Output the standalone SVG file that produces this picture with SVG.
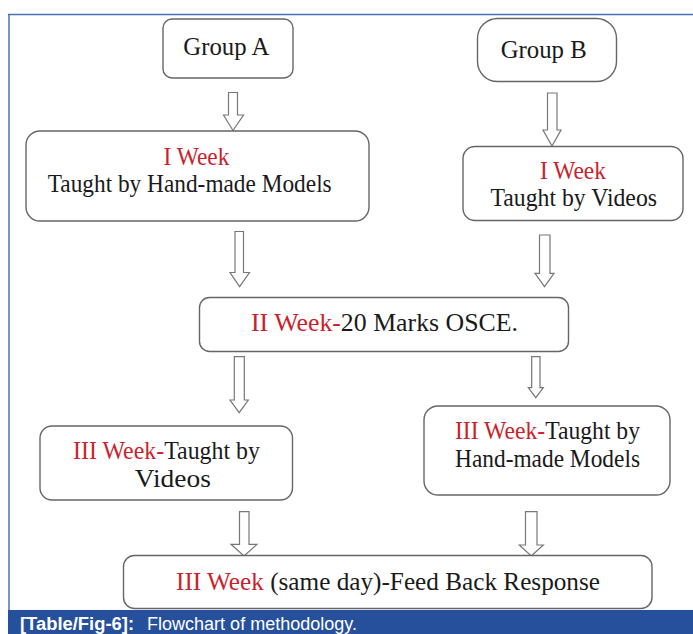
<svg xmlns="http://www.w3.org/2000/svg" width="693" height="634" viewBox="0 0 693 634">
<style>
.box{fill:#fff;stroke:#666;stroke-width:1.4}
.arr{fill:#fff;stroke:#777;stroke-width:1.2;stroke-linejoin:miter}
.t{font-family:"Liberation Serif","Times New Roman",serif;font-size:25px;fill:#1a1a1a}
.r{fill:#cc1f2b}
.cap{font-family:"Liberation Sans",Arial,sans-serif;font-size:18px;fill:#fff}
</style>
<rect x="0" y="0" width="693" height="634" fill="#fff"/>
<g id="frame">
<line x1="8" y1="14.5" x2="693" y2="14.5" stroke="#4a6fb5" stroke-width="1.5"/>
<line x1="9" y1="14" x2="9" y2="611" stroke="#4a6fb5" stroke-width="1.5"/>
<rect x="8" y="610" width="685" height="24" fill="#26509c"/>
<text class="cap" x="20" y="630" font-weight="bold" textLength="114" lengthAdjust="spacingAndGlyphs">[Table/Fig-6]:</text>
<text class="cap" x="147" y="630" textLength="210" lengthAdjust="spacingAndGlyphs">Flowchart of methodology.</text>
</g>
<g id="connectors">
<path class="arr" d="M228.5,92.5 H237.5 V115 H243.5 L233,130.5 L223.5,115 H228.5 Z"/>
<path class="arr" d="M547.5,93 H557 V130 H561 L552,146 L543,130 H547.5 Z"/>
<path class="arr" d="M235,231.5 H243.5 V272.5 H249.5 L239.6,286.7 L230,272.5 H235 Z"/>
<path class="arr" d="M539.5,235 H550 V273.3 H554 L544.5,286.7 L535,273.3 H539.5 Z"/>
<path class="arr" d="M234.3,356.7 H244.3 V400 H248.3 L239.2,412.7 L230,400 H234.3 Z"/>
<path class="arr" d="M531.7,356.7 H540 V387.7 H543.3 L535.8,397.7 L528.3,387.7 H531.7 Z"/>
<path class="arr" d="M239.5,511.7 H249 V544.3 H257 L244,556 L231,544.3 H239.5 Z"/>
<path class="arr" d="M525.5,511.7 H537 V545 H543.3 L531.3,556 L519.3,545 H525.5 Z"/>
</g>
<g id="groupA">
<rect class="box" x="163" y="19" width="130" height="59" rx="9"/>
<text class="t" x="183.3" y="55" textLength="86" lengthAdjust="spacingAndGlyphs">Group A</text>
</g>
<g id="groupB">
<rect class="box" x="477.5" y="18.5" width="139" height="63" rx="20"/>
<text class="t" x="500.7" y="58.3" textLength="86" lengthAdjust="spacingAndGlyphs">Group B</text>
</g>
<g id="week1A">
<rect class="box" x="26" y="131" width="343" height="90" rx="14"/>
<text class="t r" x="163.5" y="165" textLength="66" lengthAdjust="spacingAndGlyphs">I Week</text>
<text class="t" x="47.7" y="191.7" textLength="284" lengthAdjust="spacingAndGlyphs">Taught by Hand-made Models</text>
</g>
<g id="week1B">
<rect class="box" x="463" y="146.5" width="220" height="74" rx="12"/>
<text class="t r" x="540" y="179.3" textLength="66" lengthAdjust="spacingAndGlyphs">I Week</text>
<text class="t" x="490.5" y="206" textLength="166.5" lengthAdjust="spacingAndGlyphs">Taught by Videos</text>
</g>
<g id="week2">
<rect class="box" x="199.5" y="297.5" width="369" height="54" rx="10"/>
<text class="t" x="251" y="330.7" textLength="267" lengthAdjust="spacingAndGlyphs"><tspan class="r">II Week-</tspan>20 Marks OSCE.</text>
</g>
<g id="week3A">
<rect class="box" x="40" y="426" width="252.5" height="74" rx="12"/>
<text class="t" x="73" y="459" textLength="187" lengthAdjust="spacingAndGlyphs"><tspan class="r">III Week-</tspan>Taught by</text>
<text class="t" x="134.8" y="486.7" textLength="76" lengthAdjust="spacingAndGlyphs">Videos</text>
</g>
<g id="week3B">
<rect class="box" x="424" y="406" width="246" height="89" rx="14"/>
<text class="t" x="455" y="439.3" textLength="185" lengthAdjust="spacingAndGlyphs"><tspan class="r">III Week-</tspan>Taught by</text>
<text class="t" x="455" y="466.7" textLength="185" lengthAdjust="spacingAndGlyphs">Hand-made Models</text>
</g>
<g id="feedback">
<rect class="box" x="123.5" y="555.5" width="528.5" height="53" rx="11"/>
<text class="t" x="176" y="590" textLength="424" lengthAdjust="spacingAndGlyphs"><tspan class="r">III Week</tspan> (same day)-Feed Back Response</text>
</g>
</svg>
